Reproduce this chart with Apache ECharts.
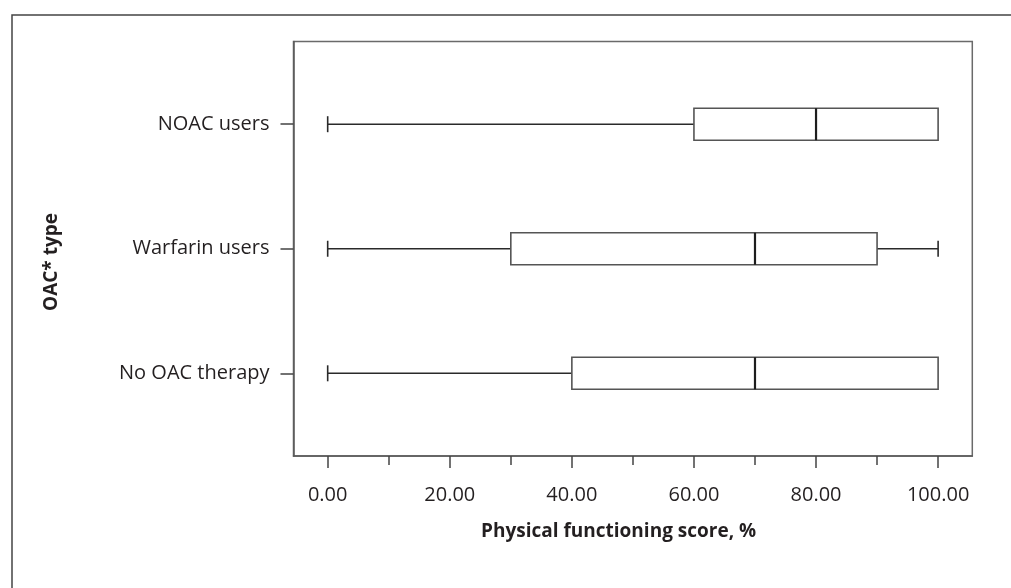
<!DOCTYPE html>
<html>
<head>
<meta charset="utf-8">
<script src="https://cdn.jsdelivr.net/npm/echarts@6/dist/echarts.min.js"></script>
<style>html,body{margin:0;padding:0;background:#fff;}#c{width:1011px;height:588px;}</style>
</head>
<body>
<div id="c"></div>
<script>
// Data
const categories = ["No OAC therapy", "Warfarin users", "NOAC users"];
const whiskerLow = [0, 0, 0];
const q1 = [40, 30, 60];
const median = [70, 70, 80];
const q3 = [100, 90, 100];
const whiskerHigh = [100, 100, 100];
const majorTicks = [0, 20, 40, 60, 80, 100];
const minorTicks = [10, 30, 50, 70, 90];
const xTitle = "Physical functioning score, %";
const yTitle = "OAC* type";

const FONT = "'Open Sans', 'Noto Sans', sans-serif";
const TXT = '#231f20';
const LINE = '#5a5a5a';

const boxData = categories.map((c, i) => [i, whiskerLow[i], q1[i], median[i], q3[i], whiskerHigh[i]]);

const chart = echarts.init(document.getElementById('c'), null, {renderer: 'canvas'});

function renderBox(params, api) {
  const idx = api.value(0);
  const lo = api.coord([api.value(1), idx]);
  const b1 = api.coord([api.value(2), idx]);
  const md = api.coord([api.value(3), idx]);
  const b3 = api.coord([api.value(4), idx]);
  const hi = api.coord([api.value(5), idx]);
  const y = lo[1];
  const h = 32, cap = 8;
  const children = [];
  const wStyle = {stroke: '#2a2a2a', lineWidth: 1.6};
  if (b1[0] > lo[0]) {
    children.push({type: 'line', shape: {x1: lo[0], y1: y, x2: b1[0], y2: y}, style: wStyle});
    children.push({type: 'line', shape: {x1: lo[0], y1: y - cap, x2: lo[0], y2: y + cap}, style: wStyle});
  }
  if (hi[0] > b3[0]) {
    children.push({type: 'line', shape: {x1: b3[0], y1: y, x2: hi[0], y2: y}, style: wStyle});
    children.push({type: 'line', shape: {x1: hi[0], y1: y - cap, x2: hi[0], y2: y + cap}, style: wStyle});
  }
  children.push({type: 'rect', shape: {x: b1[0], y: y - h / 2, width: b3[0] - b1[0], height: h},
    style: {fill: '#fff', stroke: '#555', lineWidth: 1.6}});
  children.push({type: 'line', shape: {x1: md[0], y1: y - h / 2, x2: md[0], y2: y + h / 2},
    style: {stroke: '#1e1e1e', lineWidth: 2.2}});
  return {type: 'group', children};
}

const option = {
  animation: false,
  backgroundColor: '#fff',
  textStyle: {fontFamily: FONT},
  grid: {left: 293.5, right: 38.7, top: 41.5, bottom: 132, show: true, borderColor: '#6a6a6a', borderWidth: 1.5, backgroundColor: 'transparent'},
  xAxis: [{
    type: 'value', min: -5.6, max: 105.6,
    axisLine: {show: true, onZero: false, lineStyle: {color: LINE, width: 1.5}},
    axisTick: {show: true, customValues: majorTicks, length: 12, lineStyle: {color: '#444', width: 1.5}},
    axisLabel: {customValues: majorTicks, formatter: v => v.toFixed(2), color: TXT, fontSize: 20, fontFamily: FONT, margin: 29},
    splitLine: {show: false}
  }, {
    type: 'value', min: -5.6, max: 105.6, position: 'bottom',
    axisLine: {show: false, onZero: false},
    axisTick: {show: true, customValues: minorTicks, length: 9, lineStyle: {color: '#444', width: 1.5}},
    axisLabel: {show: false},
    splitLine: {show: false}
  }],
  yAxis: {
    type: 'value', min: -0.664, max: 2.664,
    axisLine: {show: true, onZero: false, lineStyle: {color: LINE, width: 1.5}},
    axisTick: {show: true, customValues: [0, 1, 2], length: 13, lineStyle: {color: '#444', width: 1.5}},
    axisLabel: {customValues: [0, 1, 2], formatter: v => categories[Math.round(v)], color: TXT, fontSize: 20, fontFamily: FONT, margin: 24, padding: [4, 0, 0, 0]},
    splitLine: {show: false}
  },
  graphic: [
    {type: 'rect', left: 9.5, top: 12.5, shape: {x: 0, y: 0, width: 1100, height: 700},
      style: {fill: 'none', stroke: '#444', lineWidth: 1.5}, silent: true, z: -1},
    {type: 'text', left: 481, top: 522, style: {text: xTitle, font: 'bold 19px ' + FONT, fill: TXT}},
    {type: 'text', x: 52, y: 262, rotation: Math.PI / 2, style: {text: yTitle, font: 'bold 19px ' + FONT, fill: TXT, align: 'center', verticalAlign: 'middle'}}
  ],
  series: [{
    type: 'custom',
    renderItem: renderBox,
    encode: {x: [1, 2, 3, 4, 5], y: 0},
    data: boxData,
    z: 5
  }]
};
chart.setOption(option);
</script>
</body>
</html>
